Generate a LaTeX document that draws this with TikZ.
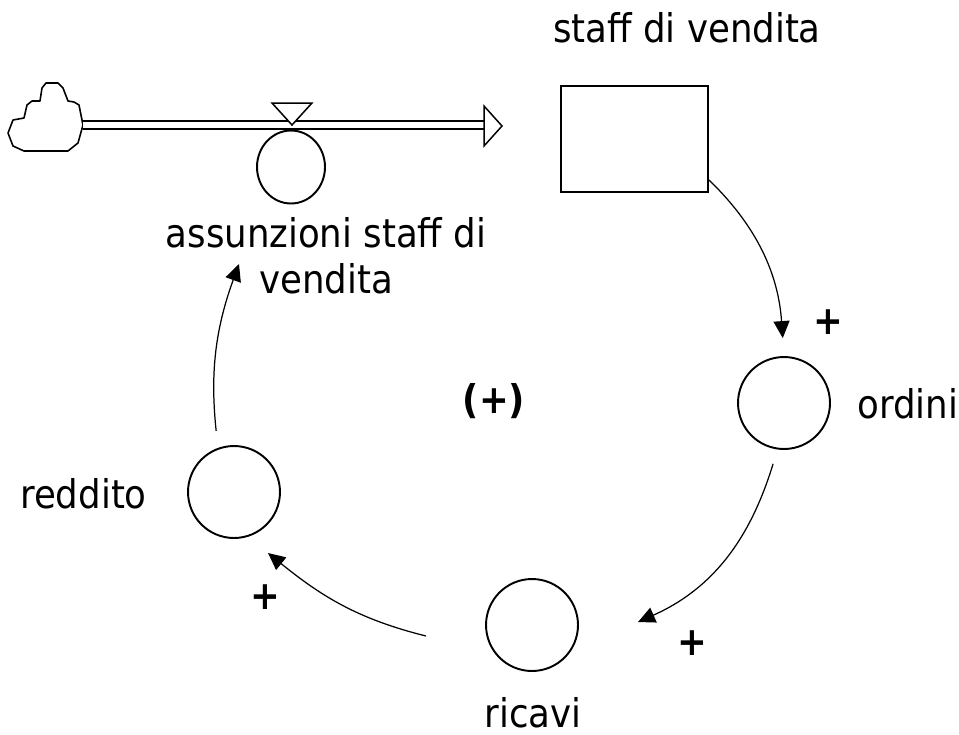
\documentclass[tikz,border=0pt]{standalone}
\usepackage{fontspec}
\setmainfont{DejaVu Sans Condensed}
\usetikzlibrary{arrows.meta, shapes.geometric}

\begin{document}
\begin{tikzpicture}[
    x=0.02cm, y=-0.02cm,
    stock/.style={rectangle, draw, line width=1.1pt, minimum width=2.94cm, minimum height=2.12cm, inner sep=0pt},
    aux/.style={circle, draw, line width=1.1pt, minimum size=1.84cm, inner sep=0pt},
    valve/.style={ellipse, draw, line width=1.1pt, minimum width=1.36cm, minimum height=1.46cm, inner sep=0pt},
    lbl/.style={font=\fontsize{22.5}{26}\selectfont, inner sep=0pt, align=center},
    sign/.style={font=\fontsize{22.5}{26}\selectfont\bfseries, inner sep=0pt},
    link/.style={-{Triangle[length=0.34cm, width=0.32cm]}, line width=0.7pt},
    pipe/.style={double, double distance=0.13cm, line width=0.85pt},
    srccloud/.style={line width=0.9pt, line join=round}
]
\useasboundingbox (0,0) rectangle (959,734);

% source cloud and inflow pipe
\draw[srccloud] (24,151) -- (13,146) -- (8,133) -- (13,120) -- (24,118) -- (27,105) -- (32,101) -- (40,101)
    -- (42,88) -- (46,83) -- (58,83) -- (63,88) -- (68,101) -- (74,102) -- (79,105) -- (83,125)
    -- (78,143) -- (68,151) -- cycle;
\coordinate (src) at (83,125);
\coordinate (pipeEnd) at (484,125);
\node[stock] (stock) at (634.5,139) {};
\draw[pipe] (src) -- (pipeEnd);
\draw[line width=0.85pt, fill=white] (484,106) -- (502,126) -- (484,146) -- cycle;
\draw[line width=0.85pt, fill=white] (272,103) -- (312,103) -- (292,125) -- cycle;

% auxiliaries
\node[valve] (hiring) at (291,167) {};
\node[aux] (ordini) at (784,403) {};
\node[aux] (reddito) at (234,492) {};
\node[aux] (ricavi) at (532,625) {};

% labels
\node[lbl, anchor=base] (stocklbl) at (687,42) {staff di vendita};
\node[lbl, anchor=base] (hiringlbl) at (326,293) {assunzioni staff di\\vendita};
\node[lbl, anchor=base west] (ordinilbl) at (857,418) {ordini};
\node[lbl, anchor=base east] (redditolbl) at (147,508) {reddito};
\node[lbl, anchor=base] (ricavilbl) at (533,727) {ricavi};
\node[sign] (loop) at (494,401) {(+)};

% causal links
\coordinate (ricaviIn) at (638,622);
\coordinate (ricaviOut) at (426,636);
\coordinate (redditoIn) at (268,553);
\coordinate (hiringIn) at (239,264);
\draw[link, shorten >=0.36cm] ([yshift=0.26cm]stock.south east) to[out=-44, in=94] (ordini.north);
\draw[link, shorten <=0.3cm] (ordini.-98) to[out=-107, in=24] (ricaviIn);
\draw[link] (ricaviOut) to[out=166, in=-39] (redditoIn);
\draw[link, shorten <=0.34cm] (reddito.110) to[out=96, in=-110] (hiringIn);

\node[sign] (plus1) at (828,322) {+};
\node[sign] (plus2) at (692,643) {+};
\node[sign] (plus3) at (265,597) {+};
\end{tikzpicture}
\end{document}
